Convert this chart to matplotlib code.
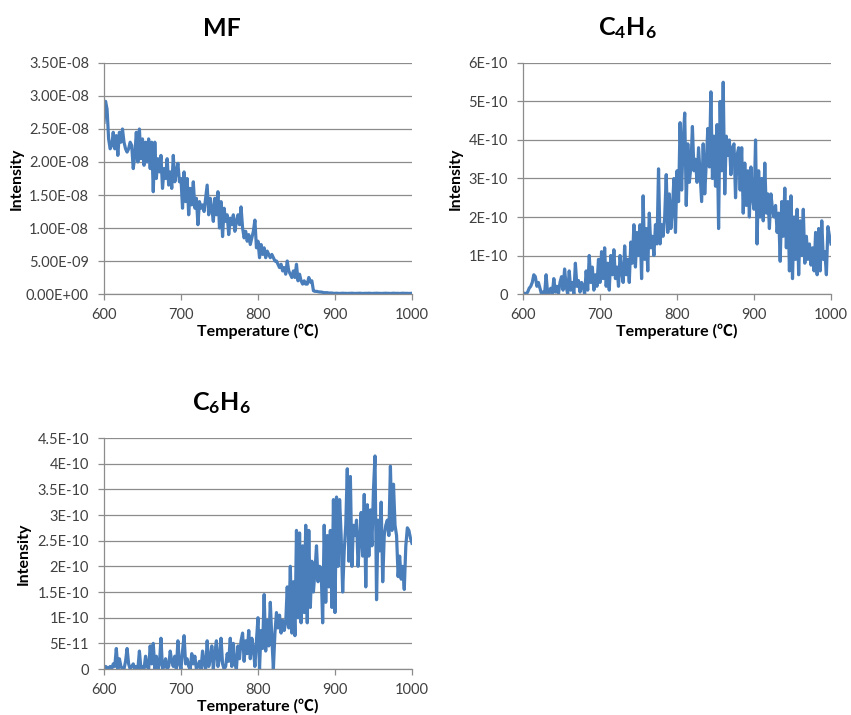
import numpy as np
import matplotlib
matplotlib.use("Agg")
import matplotlib.pyplot as plt

plt.rcParams['font.family'] = ['Lato', 'Noto Sans CJK JP', 'DejaVu Sans']
plt.rcParams['mathtext.fontset'] = 'custom'
plt.rcParams['mathtext.bf'] = 'Lato:bold'
plt.rcParams['mathtext.rm'] = 'Lato'

# MF intensity, x1e-8, every 2 C from 600 to 1000
mf = [
    2.6, 2.92, 2.8, 2.35, 2.2, 2.25, 2.45, 2.2, 2.4, 2.1,
    2.45, 2.3, 2.5, 2.3, 2.2, 2.15, 2.2, 2.3, 2.25, 1.9,
    2.1, 2.45, 2.0, 2.5, 2.05, 2.35, 1.95, 2.3, 2.0, 2.35,
    1.9, 2.3, 1.55, 2.3, 1.75, 2.05, 1.85, 2.1, 1.6, 1.9,
    1.75, 2.05, 1.65, 1.85, 1.6, 2.1, 1.7, 1.85, 1.98, 1.7,
    1.75, 1.3, 1.85, 1.4, 1.75, 1.2, 1.6, 1.35, 1.7, 1.3,
    1.45, 1.05, 1.4, 1.3, 1.35, 1.25, 1.45, 1.65, 1.2, 1.45,
    1.3, 1.1, 1.45, 1.2, 1.55, 1.0, 1.4, 0.87, 1.3, 1.1,
    1.2, 0.9, 1.15, 1.05, 1.2, 0.95, 1.1, 1.2, 1.05, 1.32,
    1.0, 0.85, 0.95, 0.8, 0.9, 0.75, 0.85, 0.95, 1.12, 0.7,
    0.8, 0.55, 0.75, 0.6, 0.7, 0.55, 0.65, 0.6, 0.55, 0.6,
    0.55, 0.5, 0.5, 0.45, 0.4, 0.45, 0.35, 0.4, 0.3, 0.5,
    0.35, 0.3, 0.25, 0.35, 0.25, 0.45, 0.2, 0.3, 0.2, 0.15,
    0.2, 0.15, 0.15, 0.25, 0.18, 0.2, 0.05, 0.04, 0.04, 0.035,
    0.03, 0.03, 0.025, 0.02, 0.02, 0.02, 0.015, 0.015, 0.015, 0.01,
    0.01, 0.012, 0.01, 0.008, 0.01, 0.012, 0.01, 0.01, 0.008, 0.01,
    0.01, 0.012, 0.01, 0.008, 0.01, 0.01, 0.012, 0.01, 0.008, 0.01,
    0.01, 0.01, 0.012, 0.01, 0.008, 0.01, 0.01, 0.012, 0.01, 0.01,
    0.008, 0.01, 0.01, 0.012, 0.01, 0.01, 0.008, 0.01, 0.012, 0.01,
    0.01, 0.01, 0.008, 0.01, 0.012, 0.01, 0.01, 0.01, 0.008, 0.01,
    0.01,
]

# C4H6 intensity, x1e-10
c4h6 = [
    0.02, 0.02, 0.0, 0.05, 0.15, 0.2, 0.3, 0.5, 0.45, 0.2,
    0.3, 0.15, 0.0, 0.05, 0.0, 0.5, 0.0, 0.05, 0.15, 0.0,
    0.4, 0.05, 0.2, 0.0, 0.3, 0.45, 0.1, 0.65, 0.2, 0.0,
    0.6, 0.1, 0.3, 0.0, 0.8, 0.2, 0.35, 0.05, 0.3, 0.2,
    0.0, 0.6, 0.1, 1.0, 0.3, 0.7, 0.1, 0.5, 0.2, 0.9,
    0.3, 1.1, 0.4, 1.2, 0.2, 0.8, 0.1, 1.0, 0.5, 1.15,
    0.4, 0.7, 0.2, 1.0, 0.6, 0.3, 1.25, 0.5, 0.9, 0.3,
    1.35, 0.8, 1.8, 0.7, 1.6, 1.0, 1.8, 0.4, 2.55, 0.9,
    1.7, 0.6, 2.1, 1.2, 1.5, 1.0, 1.8, 1.3, 3.25, 1.3,
    1.8, 1.5, 2.0, 3.1, 1.6, 2.6, 1.7, 2.2, 3.0, 1.6,
    3.2, 2.4, 4.45, 2.7, 4.0, 4.7, 2.3, 3.9, 2.9, 3.3,
    4.35, 3.2, 3.5, 2.9, 3.8, 3.1, 2.4, 3.9, 2.6, 3.4,
    4.3, 3.3, 5.25, 3.0, 4.1, 2.8, 4.4, 1.7, 5.0, 3.2,
    5.5, 2.6, 4.1, 3.6, 4.0, 3.1, 3.8, 3.9, 2.5, 3.6,
    3.8, 2.7, 3.8, 2.1, 3.4, 2.3, 3.2, 2.0, 3.3, 2.5,
    2.2, 4.0, 1.3, 3.2, 2.0, 3.0, 1.9, 3.4, 2.1, 2.6,
    1.7, 2.6, 2.2, 2.0, 2.3, 1.6, 2.1, 0.85, 2.4, 1.5,
    2.75, 1.2, 2.4, 0.6, 2.55, 0.4, 2.0, 0.9, 2.2, 0.5,
    1.9, 1.0, 2.2, 0.8, 1.5, 0.9, 1.3, 0.75, 1.2, 0.6,
    1.6, 0.5, 1.7, 0.6, 1.9, 0.9, 1.1, 0.5, 1.75, 1.5,
    1.3,
]

# C6H6 intensity, x1e-10
c6h6 = [
    0.0, 0.05, 0.03, 0.0, 0.05, 0.0, 0.1, 0.05, 0.4, 0.0,
    0.2, 0.05, 0.0, 0.0, 0.15, 0.4, 0.1, 0.0, 0.05, 0.1,
    0.0, 0.05, 0.0, 0.35, 0.0, 0.05, 0.0, 0.25, 0.05, 0.0,
    0.45, 0.1, 0.5, 0.0, 0.25, 0.0, 0.1, 0.6, 0.0, 0.05,
    0.2, 0.0, 0.05, 0.35, 0.15, 0.05, 0.25, 0.0, 0.55, 0.1,
    0.0, 0.35, 0.65, 0.1, 0.2, 0.05, 0.0, 0.3, 0.1, 0.25,
    0.0, 0.05, 0.15, 0.0, 0.35, 0.1, 0.0, 0.55, 0.05, 0.2,
    0.45, 0.0, 0.3, 0.55, 0.05, 0.2, 0.6, 0.1, 0.0, 0.05,
    0.3, 0.15, 0.6, 0.05, 0.5, 0.1, 0.0, 0.45, 0.2, 0.55,
    0.7, 0.15, 0.55, 0.3, 0.75, 0.2, 0.6, 0.4, 0.05, 0.55,
    1.0, 0.0, 0.75, 0.4, 1.45, 0.35, 0.95, 0.45, 1.3, 0.6,
    0.0, 0.7, 1.1, 0.8, 1.05, 0.7, 0.95, 0.75, 0.9, 1.6,
    0.8, 2.0, 0.7, 1.7, 0.65, 2.7, 1.0, 2.65, 0.9, 2.4,
    1.1, 2.8, 0.9, 2.7, 1.2, 2.1, 1.5, 1.9, 2.4, 1.7,
    2.0, 1.95, 0.9, 2.8, 1.3, 2.6, 1.6, 2.7, 1.2, 3.3,
    1.1, 3.35, 2.0, 3.3, 2.6, 1.5, 2.3, 2.8, 3.9, 2.1,
    3.75, 2.0, 2.8, 2.6, 2.9, 2.0, 2.5, 3.05, 2.2, 3.4,
    1.6, 3.2, 2.2, 3.1, 2.4, 3.5, 4.15, 1.35, 2.9, 2.3,
    3.25, 1.7, 2.6, 2.8, 2.9, 2.6, 3.95, 2.7, 3.6, 2.8,
    2.6, 1.8, 2.2, 1.75, 2.0, 1.55, 2.4, 2.75, 2.7, 2.55,
    2.45,
]

x_ticks = [600, 700, 800, 900, 1000]
mf_yticks = [0, 0.5e-8, 1.0e-8, 1.5e-8, 2.0e-8, 2.5e-8, 3.0e-8, 3.5e-8]
mf_ylabels = ["0.00E+00", "5.00E-09", "1.00E-08", "1.50E-08",
              "2.00E-08", "2.50E-08", "3.00E-08", "3.50E-08"]
c4_yticks = [0, 1e-10, 2e-10, 3e-10, 4e-10, 5e-10, 6e-10]
c4_ylabels = ["0", "1E-10", "2E-10", "3E-10", "4E-10", "5E-10", "6E-10"]
c6_yticks = [0, 0.5e-10, 1e-10, 1.5e-10, 2e-10, 2.5e-10, 3e-10, 3.5e-10, 4e-10, 4.5e-10]
c6_ylabels = ["0", "5E-11", "1E-10", "1.5E-10", "2E-10", "2.5E-10",
              "3E-10", "3.5E-10", "4E-10", "4.5E-10"]

LINE = "#4a7ebb"
GRID = "#8c8c8c"
TXT = "#404040"

fig = plt.figure(figsize=(8.51, 7.15), dpi=100)


def panel(rect, values, scale, yticks, ylabels, title, title_x, ylab_x):
    ax = fig.add_axes(rect)
    temps = np.linspace(600, 1000, len(values))
    ax.plot(temps, np.array(values) * scale, color=LINE, lw=2.3)
    ax.set_xlim(600, 1000)
    ax.set_ylim(yticks[0], yticks[-1])
    ax.set_xticks(x_ticks)
    ax.set_yticks(yticks)
    ax.set_yticklabels(ylabels)
    ax.grid(axis="y", color=GRID, lw=0.9)
    ax.set_axisbelow(True)
    for s in ["top", "right"]:
        ax.spines[s].set_visible(False)
    for s in ["left", "bottom"]:
        ax.spines[s].set_color(GRID)
        ax.spines[s].set_linewidth(0.9)
    ax.tick_params(direction="out", length=4.3, width=0.9, color=GRID,
                   labelsize=10.5, labelcolor=TXT)
    ax.tick_params(axis="x", pad=6)
    ax.tick_params(axis="y", pad=6.5)
    ax.set_xlabel("Temperature (℃)", fontsize=11.5, fontweight="bold")
    ax.xaxis.set_label_coords(0.5, -0.13)
    ax.set_ylabel("Intensity", fontsize=11.5, fontweight="bold")
    ax.yaxis.set_label_coords(ylab_x, 0.5)
    ax.text(title_x, 1.15, title, transform=ax.transAxes, ha="center",
            va="center", fontsize=18, fontweight="bold")
    return ax


panel([0.1222, 0.5888, 0.3619, 0.3231], mf, 1e-8, mf_yticks, mf_ylabels,
      "MF", 0.383, -0.26)
panel([0.6146, 0.5888, 0.3619, 0.3231], c4h6, 1e-10, c4_yticks, c4_ylabels,
      r"$\mathbf{C_4H_6}$", 0.34, -0.195)
panel([0.1222, 0.0643, 0.3619, 0.3231], c6h6, 1e-10, c6_yticks, c6_ylabels,
      r"$\mathbf{C_6H_6}$", 0.38, -0.237)

fig.savefig("out.png", dpi=100)
